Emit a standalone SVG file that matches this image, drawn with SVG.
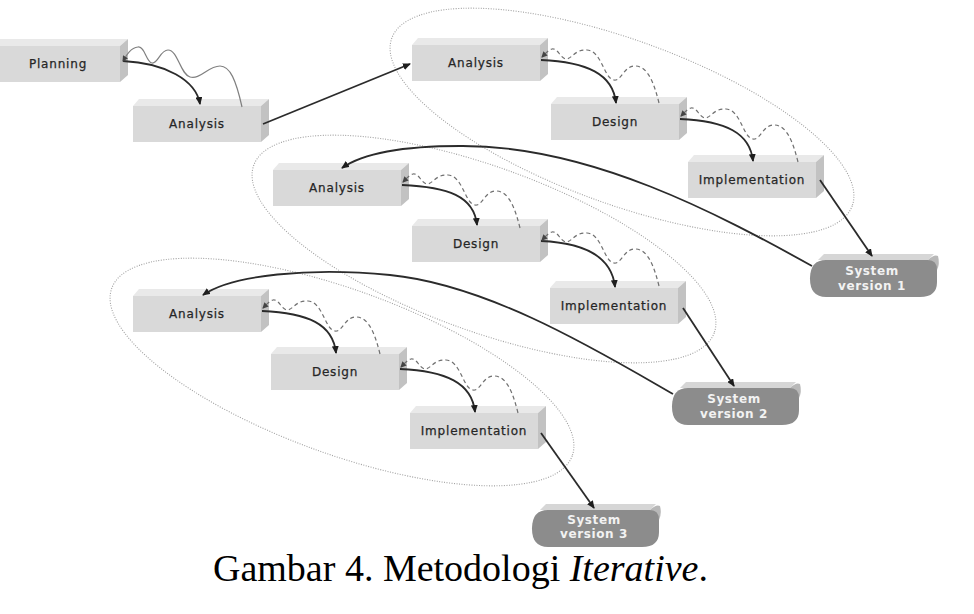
<svg xmlns="http://www.w3.org/2000/svg" xmlns:xlink="http://www.w3.org/1999/xlink" width="974" height="614" viewBox="0 0 974 614">
<style>
.lbl{font-family:"DejaVu Sans","Liberation Sans",sans-serif;font-size:12px;fill:#262626;letter-spacing:0.8px;text-anchor:middle;stroke:#262626;stroke-width:0.25px}
.sv{font-family:"DejaVu Sans","Liberation Sans",sans-serif;font-size:12px;font-weight:bold;fill:#f2f2f2;letter-spacing:0.6px;text-anchor:middle}
.cap{font-family:"Liberation Serif","Times New Roman",serif;font-size:38px;fill:#000}
.solid{fill:none;stroke:#2b2b2b;stroke-width:1.8;marker-end:url(#ah)}
.dash{fill:none;stroke:#707070;stroke-width:1.2;stroke-dasharray:4 3;marker-end:url(#ahs)}
.wave{fill:none;stroke:#808080;stroke-width:1.2;marker-end:url(#ahs)}
.ell{fill:none;stroke:#a0a0a0;stroke-width:1.1;stroke-dasharray:1 1.5}
</style>
<defs>
<marker id="ah" markerUnits="userSpaceOnUse" markerWidth="9" markerHeight="7" refX="7" refY="3.5" orient="auto"><path d="M0,0 L8,3.5 L0,7 z" fill="#1e1e1e"/></marker>
<marker id="ahs" markerUnits="userSpaceOnUse" markerWidth="7" markerHeight="6" refX="5" refY="3" orient="auto"><path d="M0,0 L6,3 L0,6 z" fill="#444"/></marker>
<g id="box">
<polygon points="0,0 6,-7 136,-7 128,0" fill="#e9e9e9"/>
<polygon points="128,0 136,-7 136,29 128,36" fill="#c2c2c2"/>
<rect x="0" y="0" width="128" height="36" fill="#d9d9d9"/>
</g>
<g id="sys">
<polygon points="8,0 14,-6 124,-6 118,0" fill="#d6d6d6"/>
<path d="M118,0 Q124,-6 128,-4 Q130,4 127,10 Z" fill="#b8b8b8"/>
<path d="M16,0 H118 Q127,0 127,10 V22 Q127,37 110,37 H16 Q0,37 0,18.5 Q0,0 16,0 Z" fill="#8c8c8c"/>
</g>
</defs>
<rect width="974" height="614" fill="#ffffff"/>
<g id="groups">
<ellipse class="ell" cx="622" cy="122" rx="245" ry="82" transform="rotate(20 622 122)"/>
<ellipse class="ell" cx="484" cy="249" rx="245" ry="82" transform="rotate(20 484 249)"/>
<ellipse class="ell" cx="342" cy="372" rx="245" ry="82" transform="rotate(20 342 372)"/>
</g>
<g id="n-planning" transform="translate(-8,46)"><use href="#box"/><text class="lbl" x="66" y="22">Planning</text></g>
<g id="n-analysis0" transform="translate(133,106)"><use href="#box"/><text class="lbl" x="64" y="22">Analysis</text></g>
<g id="n-r1-analysis" transform="translate(412,45)"><use href="#box"/><text class="lbl" x="64" y="22">Analysis</text></g>
<g id="n-r1-design" transform="translate(551,104)"><use href="#box"/><text class="lbl" x="64" y="22">Design</text></g>
<g id="n-r1-impl" transform="translate(688,162)"><use href="#box"/><text class="lbl" x="64" y="22">Implementation</text></g>
<g id="n-sv1" transform="translate(810,260)"><use href="#sys"/><text class="sv" x="62" y="15">System</text><text class="sv" x="62" y="30">version 1</text></g>
<g id="n-r2-analysis" transform="translate(273,170)"><use href="#box"/><text class="lbl" x="64" y="22">Analysis</text></g>
<g id="n-r2-design" transform="translate(412,226)"><use href="#box"/><text class="lbl" x="64" y="22">Design</text></g>
<g id="n-r2-impl" transform="translate(550,288)"><use href="#box"/><text class="lbl" x="64" y="22">Implementation</text></g>
<g id="n-sv2" transform="translate(672,388)"><use href="#sys"/><text class="sv" x="62" y="15">System</text><text class="sv" x="62" y="30">version 2</text></g>
<g id="n-r3-analysis" transform="translate(133,296)"><use href="#box"/><text class="lbl" x="64" y="22">Analysis</text></g>
<g id="n-r3-design" transform="translate(271,354)"><use href="#box"/><text class="lbl" x="64" y="22">Design</text></g>
<g id="n-r3-impl" transform="translate(410,413)"><use href="#box"/><text class="lbl" x="64" y="22">Implementation</text></g>
<g id="n-sv3" transform="translate(532,510)"><use href="#sys"/><text class="sv" x="62" y="14">System</text><text class="sv" x="62" y="28">version 3</text></g>
<g id="connectors">
<path class="solid" d="M123,61 C165,63 196,80 200,104"/>
<path class="wave" d="M242,107 C236,80 230,66 220,66 C208,66 200,80 190,77 C180,74 178,50 168,50 C160,50 158,64 152,63 C146,62 145,46 138,47 C130,48 126,56 123,61"/>
<path class="solid" d="M263,124 L410,64"/>
<path class="solid" d="M541,60 C587,62 613,74 616,103"/>
<path class="solid" d="M680,119 C726,121 750,133 753,161"/>
<path class="solid" d="M402,185 C448,187 474,196 477,225"/>
<path class="solid" d="M541,241 C587,243 612,258 615,287"/>
<path class="solid" d="M262,311 C308,313 333,324 336,353"/>
<path class="solid" d="M400,369 C446,371 472,383 475,412"/>
<path class="dash" transform="translate(412,45)" d="M247,58 C242,38 236,22 224,21 C212,20 210,36 202,35 C192,34 190,6 175,5 C163,4 160,14 154,14 C148,13 146,3 140,4 C136,5 133,9 130,12"/>
<path class="dash" transform="translate(551,104)" d="M247,58 C242,38 236,22 224,21 C212,20 210,36 202,35 C192,34 190,6 175,5 C163,4 160,14 154,14 C148,13 146,3 140,4 C136,5 133,9 130,12"/>
<path class="dash" transform="translate(273,170)" d="M247,58 C242,38 236,22 224,21 C212,20 210,36 202,35 C192,34 190,6 175,5 C163,4 160,14 154,14 C148,13 146,3 140,4 C136,5 133,9 130,12"/>
<path class="dash" transform="translate(412,228)" d="M247,58 C242,38 236,22 224,21 C212,20 210,36 202,35 C192,34 190,6 175,5 C163,4 160,14 154,14 C148,13 146,3 140,4 C136,5 133,9 130,12"/>
<path class="dash" transform="translate(133,296)" d="M247,58 C242,38 236,22 224,21 C212,20 210,36 202,35 C192,34 190,6 175,5 C163,4 160,14 154,14 C148,13 146,3 140,4 C136,5 133,9 130,12"/>
<path class="dash" transform="translate(271,355)" d="M247,58 C242,38 236,22 224,21 C212,20 210,36 202,35 C192,34 190,6 175,5 C163,4 160,14 154,14 C148,13 146,3 140,4 C136,5 133,9 130,12"/>
<path class="solid" d="M820,180 L872,256"/>
<path class="solid" d="M683,308 L734,386"/>
<path class="solid" d="M541,433 L594,508"/>
<path class="solid" d="M812,266 C720,215 590,145 460,146 C400,146 362,154 342,168"/>
<path class="solid" d="M673,394 C600,352 490,285 390,275 C310,267 232,275 203,295"/>
</g>
<text class="cap" x="213" y="581">Gambar 4. Metodologi <tspan font-style="italic">Iterative</tspan>.</text>
</svg>
